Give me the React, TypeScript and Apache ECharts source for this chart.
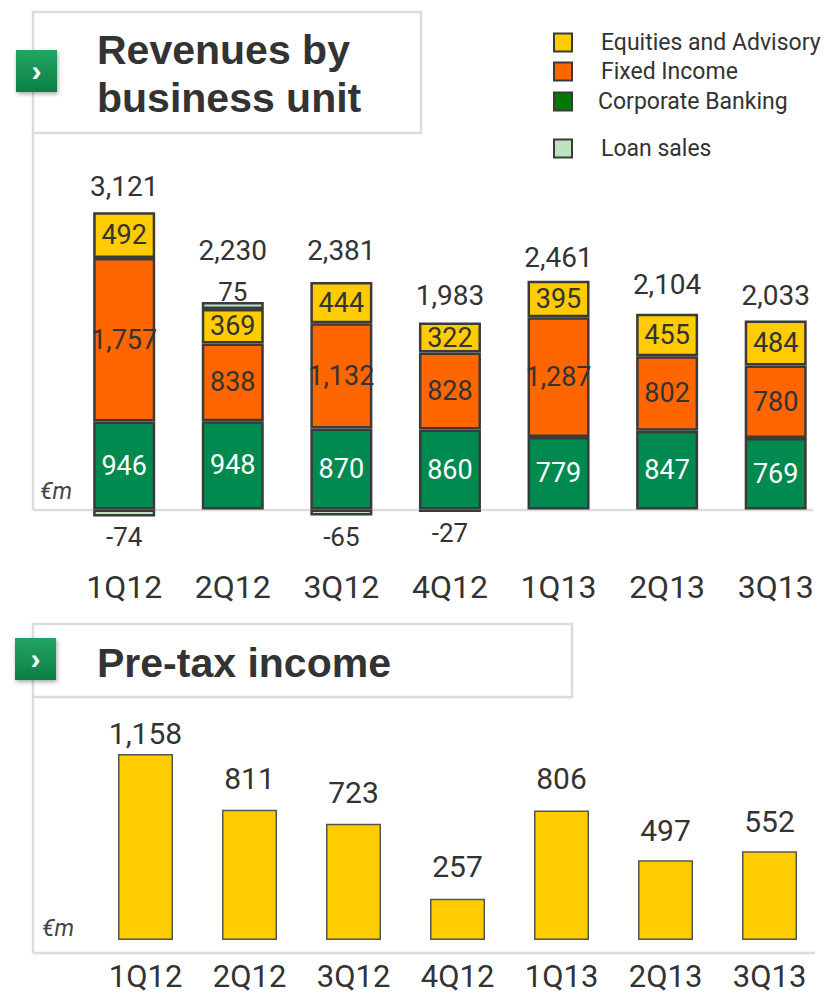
import React, { useEffect, useRef } from "react";
import * as echarts from "echarts";

// ---- Data ----
const categories = ["1Q12", "2Q12", "3Q12", "4Q12", "1Q13", "2Q13", "3Q13"];
const corporateBanking = [946, 948, 870, 860, 779, 847, 769];
const fixedIncome = [1757, 838, 1132, 828, 1287, 802, 780];
const equitiesAdvisory = [492, 369, 444, 322, 395, 455, 484];
const loanSales: (number | null)[] = [-74, 75, -65, -27, null, null, null];
const revenueTotals = [3121, 2230, 2381, 1983, 2461, 2104, 2033];
const preTaxIncome = [1158, 811, 723, 257, 806, 497, 552];

// ---- Styling ----
const NUM_FONT = "'Liberation Sans Narrow', 'Arial Narrow', Roboto, sans-serif";
const TITLE_FONT = "'Liberation Sans', Arial, sans-serif";
const TXT = "#333333";
const BORDER = "#3a3a3a";
const FRAME = "#dcdcdc";
const totalLabelGap = [12, 38, 18, 13, 9, 15, 11];
const pretaxLabelGap = [5, 16, 16, 17, 17, 15, 15];

const fmt = (v: number) => v.toLocaleString("en-US");

function chevron(x: number, y: number) {
  return [
    {
      type: "rect",
      shape: { x, y, width: 41, height: 42 },
      style: {
        fill: new echarts.graphic.LinearGradient(0, 0, 0, 1, [
          { offset: 0, color: "#23a562" },
          { offset: 1, color: "#0b7f45" },
        ]),
        shadowBlur: 4,
        shadowOffsetX: 1,
        shadowOffsetY: 2,
        shadowColor: "rgba(0,0,0,0.35)",
      },
      z: 10,
    },
    {
      type: "text",
      style: {
        text: "\u203A",
        x: x + 20.5,
        y: y + 20,
        align: "center",
        verticalAlign: "middle",
        fontSize: 30,
        fontWeight: "bold",
        fontFamily: TITLE_FONT,
        fill: "#ffffff",
      },
      z: 11,
    },
  ];
}

export default function App() {
  const ref = useRef<HTMLDivElement>(null);

  useEffect(() => {
    if (!ref.current) return;
    const chart = echarts.init(ref.current, undefined, { renderer: "svg" });

    const positiveTop = categories.map(
      (_, i) =>
        corporateBanking[i] +
        fixedIncome[i] +
        equitiesAdvisory[i] +
        Math.max(loanSales[i] ?? 0, 0)
    );

    const segLabel = (color: string) => ({
      show: true,
      position: "inside",
      color,
      fontSize: 27,
      fontFamily: NUM_FONT,
      formatter: (p: any) => fmt(p.value),
    });

    const barStyle = (color: string) => ({
      color,
      borderColor: BORDER,
      borderWidth: 2.5,
    });

    const option: any = {
      animation: false,
      backgroundColor: "#ffffff",
      grid: [
        { left: 69.9, width: 764.8, top: 137.5, height: 418.5 },
        { left: 93.5, width: 728, top: 715.1, height: 224.9 },
      ],
      xAxis: [
        {
          type: "category",
          gridIndex: 0,
          data: categories,
          axisLine: { show: false },
          axisTick: { show: false },
          axisLabel: { color: TXT, fontSize: 32, fontFamily: NUM_FONT, margin: 15 },
        },
        {
          type: "category",
          gridIndex: 1,
          data: categories,
          axisLine: { show: false },
          axisTick: { show: false },
          axisLabel: { color: TXT, fontSize: 31, fontFamily: NUM_FONT, margin: 21 },
        },
      ],
      yAxis: [
        { type: "value", gridIndex: 0, min: -500, max: 4000, interval: 500, show: false },
        { type: "value", gridIndex: 1, min: 0, max: 1400, interval: 200, show: false },
      ],
      legend: [
        { name: "Equities and Advisory", top: 31, color: "#FFCC00", pad: 24 },
        { name: "Fixed Income", top: 60, color: "#FF6600", pad: 24 },
        { name: "Corporate Banking", top: 90, color: "#007A00", pad: 21 },
        { name: "Loan sales", top: 137, color: "#BFE3C0", pad: 24 },
      ].map((l) => ({
        left: 553,
        top: l.top,
        padding: 0,
        orient: "vertical",
        selectedMode: false,
        icon: "rect",
        itemWidth: 18,
        itemHeight: 18,
        itemStyle: { borderColor: BORDER, borderWidth: 2 },
        textStyle: {
          color: TXT,
          fontSize: 23,
          fontFamily: NUM_FONT,
          padding: [0, 0, 0, l.pad],
        },
        data: [{ name: l.name, itemStyle: { color: l.color, borderColor: BORDER, borderWidth: 2 } }],
      })),
      series: [
        {
          name: "Corporate Banking",
          type: "bar",
          stack: "rev",
          barWidth: 62,
          xAxisIndex: 0,
          yAxisIndex: 0,
          data: corporateBanking,
          itemStyle: barStyle("#008A50"),
          label: segLabel("#ffffff"),
        },
        {
          name: "Fixed Income",
          type: "bar",
          stack: "rev",
          barWidth: 62,
          xAxisIndex: 0,
          yAxisIndex: 0,
          data: fixedIncome,
          itemStyle: barStyle("#FF6600"),
          label: segLabel(TXT),
        },
        {
          name: "Equities and Advisory",
          type: "bar",
          stack: "rev",
          barWidth: 62,
          xAxisIndex: 0,
          yAxisIndex: 0,
          data: equitiesAdvisory,
          itemStyle: barStyle("#FFCC00"),
          label: segLabel(TXT),
        },
        {
          name: "Loan sales",
          type: "bar",
          stack: "rev",
          barWidth: 62,
          xAxisIndex: 0,
          yAxisIndex: 0,
          data: loanSales.map((v) =>
            v == null
              ? "-"
              : {
                  value: v,
                  label: {
                    position: v < 0 ? "bottom" : "top",
                    distance: v < 0 ? 8 : -3,
                  },
                }
          ),
          itemStyle: barStyle("#BFE3C0"),
          label: {
            show: true,
            color: TXT,
            fontSize: 26,
            fontFamily: NUM_FONT,
            formatter: (p: any) => fmt(p.value),
          },
        },
        {
          name: "Total",
          type: "bar",
          barWidth: 62,
          barGap: "-100%",
          xAxisIndex: 0,
          yAxisIndex: 0,
          silent: true,
          z: 1,
          data: positiveTop.map((v, i) => ({ value: v, label: { distance: totalLabelGap[i] } })),
          itemStyle: { color: "rgba(0,0,0,0)", borderWidth: 0 },
          label: {
            show: true,
            position: "top",
            color: TXT,
            fontSize: 28,
            fontFamily: NUM_FONT,
            formatter: (p: any) => fmt(revenueTotals[p.dataIndex]),
          },
        },
        {
          name: "Pre-tax income",
          type: "bar",
          barWidth: 55,
          xAxisIndex: 1,
          yAxisIndex: 1,
          data: preTaxIncome.map((v, i) => ({ value: v, label: { distance: pretaxLabelGap[i] } })),
          itemStyle: { color: "#FFCC00", borderColor: "#555555", borderWidth: 1.5 },
          label: {
            show: true,
            position: "top",
            color: TXT,
            fontSize: 30,
            fontFamily: NUM_FONT,
            formatter: (p: any) => fmt(p.value),
          },
        },
      ],
      graphic: [
        // top frame
        {
          type: "rect",
          shape: { x: 33, y: 12, width: 388, height: 121 },
          style: { fill: "#ffffff", stroke: FRAME, lineWidth: 2.5 },
          z: 0,
        },
        {
          type: "line",
          shape: { x1: 33, y1: 133, x2: 33, y2: 510 },
          style: { stroke: FRAME, lineWidth: 2.5 },
          z: 0,
        },
        {
          type: "line",
          shape: { x1: 33, y1: 510, x2: 813, y2: 510 },
          style: { stroke: FRAME, lineWidth: 2.5 },
          z: 0,
        },
        ...chevron(16, 50),
        {
          type: "text",
          style: {
            text: "Revenues by",
            x: 97,
            y: 50,
            verticalAlign: "middle",
            fontSize: 41,
            fontWeight: "bold",
            fontFamily: TITLE_FONT,
            fill: TXT,
          },
          z: 5,
        },
        {
          type: "text",
          style: {
            text: "business unit",
            x: 97,
            y: 98,
            verticalAlign: "middle",
            fontSize: 41,
            fontWeight: "bold",
            fontFamily: TITLE_FONT,
            fill: TXT,
          },
          z: 5,
        },
        {
          type: "text",
          style: {
            text: "€m",
            x: 40,
            y: 491,
            verticalAlign: "middle",
            fontSize: 23,
            fontStyle: "italic",
            fontFamily: NUM_FONT,
            fill: "#444444",
          },
          z: 5,
        },
        // bottom frame
        {
          type: "rect",
          shape: { x: 33, y: 624, width: 539, height: 73 },
          style: { fill: "#ffffff", stroke: FRAME, lineWidth: 2.5 },
          z: 0,
        },
        {
          type: "line",
          shape: { x1: 33, y1: 697, x2: 33, y2: 953 },
          style: { stroke: FRAME, lineWidth: 2.5 },
          z: 0,
        },
        {
          type: "line",
          shape: { x1: 33, y1: 953, x2: 815, y2: 953 },
          style: { stroke: FRAME, lineWidth: 2.5 },
          z: 0,
        },
        ...chevron(15, 638),
        {
          type: "text",
          style: {
            text: "Pre-tax income",
            x: 97,
            y: 663,
            verticalAlign: "middle",
            fontSize: 41,
            fontWeight: "bold",
            fontFamily: TITLE_FONT,
            fill: TXT,
          },
          z: 5,
        },
        {
          type: "text",
          style: {
            text: "€m",
            x: 42,
            y: 928,
            verticalAlign: "middle",
            fontSize: 23,
            fontStyle: "italic",
            fontFamily: NUM_FONT,
            fill: "#444444",
          },
          z: 5,
        },
      ],
    };

    chart.setOption(option);
    return () => chart.dispose();
  }, []);

  return (
    <div
      ref={ref}
      style={{ position: "absolute", left: 0, top: 0, width: 830, height: 994, background: "#fff" }}
    />
  );
}
